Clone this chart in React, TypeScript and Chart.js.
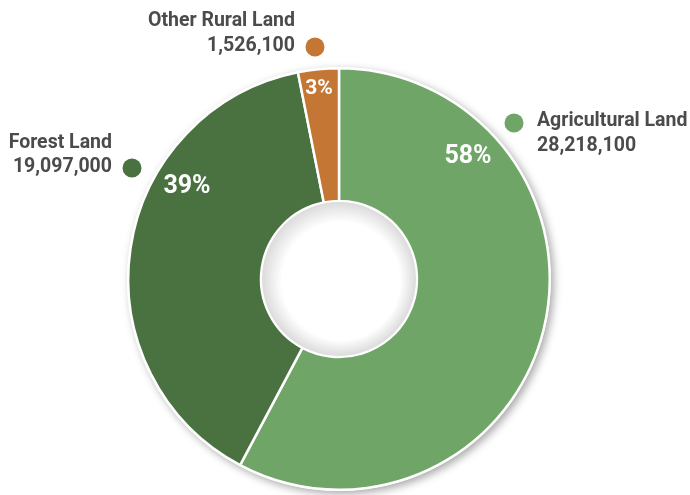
import React, { useEffect, useRef } from "react";
import { Chart, registerables } from "chart.js";

Chart.register(...registerables);

const categories = ["Agricultural Land", "Forest Land", "Other Rural Land"];
const acres = [28218100, 19097000, 1526100];
const valueLabels = ["28,218,100", "19,097,000", "1,526,100"];
const percentLabels = ["58%", "39%", "3%"];
const colors = ["#6fa566", "#4a7140", "#c47634"];

const TEXT = "#4b4b4d";
const FONT = "Roboto, 'Open Sans', sans-serif";

// label placement relative to chart center, in px
const pctPos = [
  { dx: 129, dy: -122, size: 25 },
  { dx: -152, dy: -92, size: 25 },
  { dx: -20, dy: -190, size: 21 },
];
const extPos = [
  { align: "left", tx: 198, y1: -158, y2: -133, dotx: 175, doty: -156 },
  { align: "right", tx: -227, y1: -136, y2: -112, dotx: -207, doty: -111 },
  { align: "right", tx: -44, y1: -258, y2: -233, dotx: -24, doty: -232 },
];

const decorPlugin = {
  id: "decor",
  beforeDatasetsDraw(chart: any) {
    const meta = chart.getDatasetMeta(0);
    const arc = meta.data[0];
    if (!arc) return;
    const { x, y, outerRadius } = arc;
    const ctx = chart.ctx;
    ctx.save();
    ctx.shadowColor = "rgba(0,0,0,0.35)";
    ctx.shadowBlur = 9;
    ctx.shadowOffsetX = 3;
    ctx.shadowOffsetY = 3;
    ctx.fillStyle = "#ffffff";
    ctx.beginPath();
    ctx.arc(x, y, outerRadius + 1, 0, Math.PI * 2);
    ctx.fill();
    ctx.restore();
  },
  afterDatasetsDraw(chart: any) {
    const meta = chart.getDatasetMeta(0);
    const arc0 = meta.data[0];
    if (!arc0) return;
    const { x, y, innerRadius } = arc0;
    const ctx = chart.ctx;
    // inner hole inset shadow
    ctx.save();
    const ir = innerRadius - 1;
    const g = ctx.createRadialGradient(x + 2, y + 2, ir - 18, x, y, ir);
    g.addColorStop(0, "rgba(0,0,0,0)");
    g.addColorStop(1, "rgba(0,0,0,0.14)");
    ctx.fillStyle = g;
    ctx.beginPath();
    ctx.arc(x, y, ir, 0, Math.PI * 2);
    ctx.fill();
    ctx.restore();

    // percent labels
    ctx.save();
    ctx.fillStyle = "#ffffff";
    ctx.textAlign = "center";
    ctx.textBaseline = "middle";
    percentLabels.forEach((t, i) => {
      const p = pctPos[i];
      ctx.font = `700 ${p.size}px ${FONT}`;
      ctx.fillText(t, x + p.dx, y + p.dy);
    });
    ctx.restore();

    // external labels
    ctx.save();
    ctx.textBaseline = "middle";
    categories.forEach((c, i) => {
      const p = extPos[i];
      ctx.fillStyle = colors[i];
      ctx.beginPath();
      ctx.arc(x + p.dotx, y + p.doty, 9.5, 0, Math.PI * 2);
      ctx.fill();
      ctx.fillStyle = TEXT;
      ctx.textAlign = p.align as CanvasTextAlign;
      ctx.font = `700 19.5px ${FONT}`;
      ctx.fillText(c, x + p.tx, y + p.y1);
      ctx.fillText(valueLabels[i], x + p.tx, y + p.y2);
    });
    ctx.restore();
  },
};

export default function App() {
  const ref = useRef<HTMLCanvasElement | null>(null);
  useEffect(() => {
    if (!ref.current) return;
    const chart = new Chart(ref.current, {
      type: "doughnut",
      data: {
        labels: categories,
        datasets: [
          {
            data: acres,
            backgroundColor: colors,
            borderColor: "#ffffff",
            borderWidth: 2.5,
            hoverOffset: 0,
          },
        ],
      },
      options: {
        animation: false,
        responsive: true,
        maintainAspectRatio: false,
        cutout: "37%",
        rotation: 0,
        layout: { padding: { left: 127, right: 139, top: 67, bottom: 4 } },
        plugins: {
          legend: { display: false },
          tooltip: { enabled: false },
        },
      },
      plugins: [decorPlugin],
    });
    return () => chart.destroy();
  }, []);
  return (
    <div style={{ position: "fixed", left: 0, top: 0, width: 690, height: 495, background: "#fff" }}>
      <canvas ref={ref} />
    </div>
  );
}
